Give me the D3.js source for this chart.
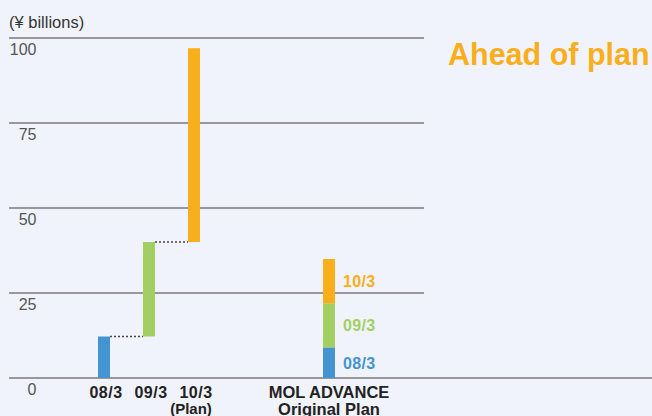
<!DOCTYPE html>
<html><head><meta charset="utf-8">
<script src="https://cdn.jsdelivr.net/npm/d3@7"></script>
<style>
html,body{margin:0;padding:0;background:#F0F3FB;}
svg{display:block;font-family:"Liberation Sans",Arial,sans-serif;}
</style></head>
<body>
<svg id="c" width="652" height="416"></svg>
<script>
// Data
const categories = ["08/3", "09/3", "10/3"];
const categorySubLabels = ["", "", "(Plan)"];
const increments = [12.2, 27.8, 57.0];        // annual increase, waterfall
const planCategory = "MOL ADVANCE";
const planSubLabel = "Original Plan";
const planSegments = ["08/3", "09/3", "10/3"];
const planValues = [9, 13, 13];
const yTicks = [0, 25, 50, 75, 100];
const unitLabel = "(\u00A5 billions)";
const headline = "Ahead of plan";
const colors = ["#4394D0", "#A3CF62", "#F9AE1B"];

const svg = d3.select("#c");
const y = d3.scaleLinear().domain([0, 100]).range([378, 38]);
const x = d3.scalePoint().domain([...categories, "_a", "_b", planCategory]).range([104, 329]);
const bw = 12;

// gridlines
svg.append("g").selectAll("line").data(yTicks).join("line")
  .attr("x1", 9).attr("x2", d => d === 0 ? 652 : 424)
  .attr("y1", d => y(d)).attr("y2", d => y(d))
  .attr("stroke", "#7a7a7a").attr("stroke-width", 1.5);

svg.append("g").selectAll("text").data(yTicks).join("text")
  .attr("x", 36.5).attr("y", d => y(d) + 17)
  .attr("text-anchor", "end").attr("font-size", 16).attr("fill", "#555")
  .text(d => d);

svg.append("text").attr("x", 9).attr("y", 28).attr("font-size", 16.5).attr("fill", "#333").text(unitLabel);

// waterfall
let cum = 0;
const wf = increments.map((v, i) => { const s = cum; cum += v; return {cat: categories[i], start: s, end: cum, i}; });
svg.append("g").selectAll("rect").data(wf).join("rect")
  .attr("x", d => x(d.cat) - bw / 2).attr("width", bw)
  .attr("y", d => y(d.end)).attr("height", d => y(d.start) - y(d.end))
  .attr("fill", d => colors[d.i]);

// connectors
svg.append("g").selectAll("line").data(wf.slice(0, -1)).join("line")
  .attr("x1", d => x(d.cat) + bw / 2).attr("x2", (d, i) => x(wf[i + 1].cat) - bw / 2)
  .attr("y1", d => y(d.end)).attr("y2", d => y(d.end))
  .attr("stroke", "#444").attr("stroke-width", 1.3).attr("stroke-dasharray", "2,2");

// plan stack
let pc = 0;
const ps = planValues.map((v, i) => { const s = pc; pc += v; return {seg: planSegments[i], start: s, end: pc, i}; });
svg.append("g").selectAll("rect").data(ps).join("rect")
  .attr("x", x(planCategory) - bw / 2).attr("width", bw)
  .attr("y", d => y(d.end)).attr("height", d => y(d.start) - y(d.end))
  .attr("fill", d => colors[d.i]);
svg.append("g").selectAll("text").data(ps).join("text")
  .attr("x", x(planCategory) + 14).attr("y", d => y((d.start + d.end) / 2) + 6)
  .attr("font-size", 16).attr("font-weight", "bold").attr("letter-spacing", 0.3)
  .attr("fill", d => colors[d.i]).text(d => d.seg);

// category labels
const lab = svg.append("g").attr("font-size", 16).attr("font-weight", "bold").attr("fill", "#222").attr("text-anchor", "middle");
categories.forEach((c, i) => {
  lab.append("text").attr("x", x(c) + 2).attr("y", 398).attr("letter-spacing", 0.5).text(c);
  if (categorySubLabels[i]) lab.append("text").attr("x", x(c) - 3).attr("y", 414).attr("font-size", 15).text(categorySubLabels[i]);
});
lab.append("text").attr("x", x(planCategory)).attr("y", 398).attr("font-size", 16.5).text(planCategory);
lab.append("text").attr("x", x(planCategory)).attr("y", 414.5).attr("font-size", 16.5).text(planSubLabel);

svg.append("text").attr("x", 448).attr("y", 65).attr("font-size", 30.5).attr("font-weight", "bold")
  .attr("fill", "#F9AE1B").text(headline);
</script>
</body></html>
